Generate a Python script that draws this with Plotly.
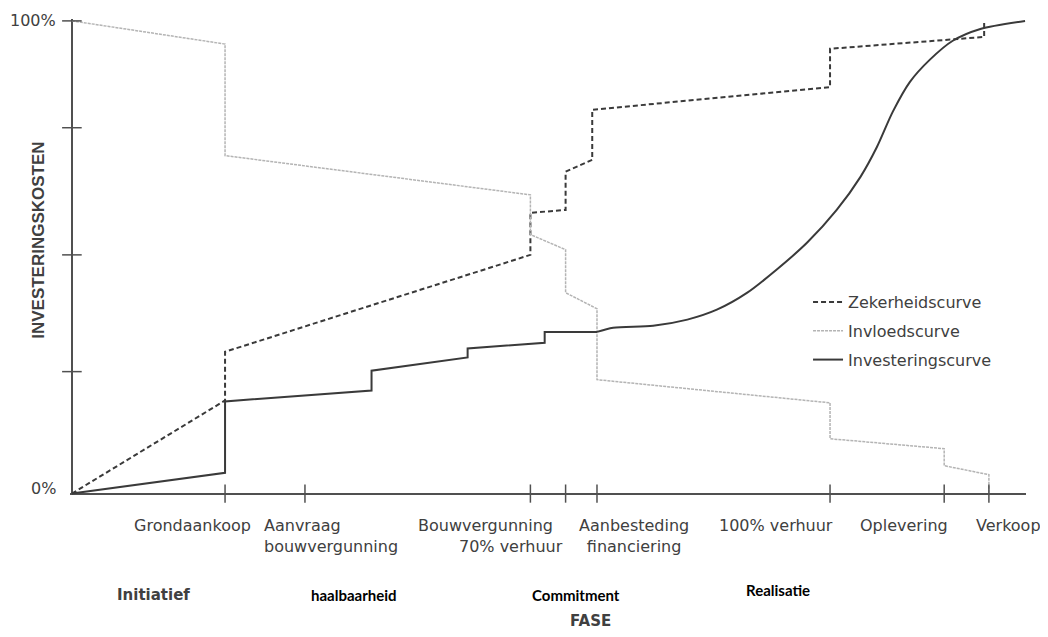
import plotly.graph_objects as go

# ---------------- data ----------------
# x: progress through the project (0-100), y: percentage (0-100)
milestone_x = [16.1, 24.5, 48.2, 51.9, 55.2, 79.7, 91.7, 96.4]
milestone_labels = ["Grondaankoop", "Aanvraag<br>bouwvergunning", "Bouwvergunning",
                    "70% verhuur", "Aanbesteding<br>financiering", "100% verhuur",
                    "Oplevering", "Verkoop"]
y_tick_vals = [25.8, 50.5, 77.4, 100]
y_label_vals = [0, 100]
y_label_texts = ["0%", "100%"]

zeker_x = [0, 16.1, 16.1, 48.2, 48.2, 51.9, 51.9, 54.7, 54.7, 79.7, 79.7, 95.9, 95.9]
zeker_y = [0, 19.7, 30.0, 50.5, 59.4, 60.0, 68.1, 70.6, 81.2, 86.0, 94.1, 96.6, 99.8]

invloed_x = [0, 16.1, 16.1, 48.2, 48.2, 51.9, 51.9, 55.2, 55.2, 79.7, 79.7, 91.7, 91.7, 96.4, 96.4]
invloed_y = [100, 95.1, 71.5, 63.2, 54.8, 51.6, 42.5, 39.1, 24.1, 19.2, 11.6, 9.5, 5.9, 4.0, 0]

invest_step_x = [0, 16.1, 16.1, 31.5, 31.5, 41.6, 41.6, 49.7, 49.7, 55.2]
invest_step_y = [0, 4.4, 19.5, 21.8, 26.0, 28.8, 30.7, 31.9, 34.2, 34.2]
invest_curve_x = [55.2, 56.9, 61.1, 64.7, 67.8, 71.0, 74.1, 77.3, 80.4, 82.9,
                  84.6, 86.3, 88.1, 90.2, 92.6, 95.5, 100.2]
invest_curve_y = [34.2, 35.1, 35.5, 36.8, 38.9, 42.5, 47.4, 53.1, 60.0, 67.0,
                  73.2, 80.8, 87.1, 91.8, 95.8, 98.3, 100.0]

phase_labels = ["Initiatief", "haalbaarheid", "Commitment", "Realisatie"]
axis_title_y = "INVESTERINGSKOSTEN"
axis_title_x = "FASE"

# ---------------- styling ----------------
DARK = "#3a3a3a"
LIGHT = "#b4b4b4"
AXIS = "#505050"
TXT = "#404040"
FONT = "DejaVu Sans"

fig = go.Figure()

fig.add_trace(go.Scatter(x=zeker_x, y=zeker_y, mode="lines", name="Zekerheidscurve",
                         legendgroup="a",
                         line=dict(color=DARK, width=2, dash="5px,3px")))
fig.add_trace(go.Scatter(x=invloed_x, y=invloed_y, mode="lines", name="Invloedscurve",
                         legendgroup="b",
                         line=dict(color=LIGHT, width=1.5, dash="3px,1px")))
fig.add_trace(go.Scatter(x=invest_step_x, y=invest_step_y, mode="lines", name="Investeringscurve",
                         legendgroup="c",
                         line=dict(color=DARK, width=2)))
fig.add_trace(go.Scatter(x=invest_curve_x, y=invest_curve_y, mode="lines", name="Investeringscurve",
                         legendgroup="c", showlegend=False,
                         line=dict(color=DARK, width=2, shape="spline", smoothing=0.8)))

# crossing tick marks
fig.add_trace(go.Scatter(x=milestone_x, y=[0] * len(milestone_x), mode="markers",
                         showlegend=False, cliponaxis=False, hoverinfo="skip",
                         marker=dict(symbol="line-ns", size=13,
                                     line=dict(color=AXIS, width=1.5))))
fig.add_trace(go.Scatter(x=[0] * len(y_tick_vals), y=y_tick_vals, mode="markers",
                         showlegend=False, cliponaxis=False, hoverinfo="skip",
                         marker=dict(symbol="line-ew", size=14,
                                     line=dict(color=AXIS, width=1.5))))

annotations = []
# y labels
for v, t in zip(y_label_vals, y_label_texts):
    annotations.append(dict(x=0, y=v, xref="x", yref="y", text=t, showarrow=False,
                            xanchor="right", yanchor="middle", xshift=-14,
                            yshift=5 if v == 0 else 0,
                            font=dict(family=FONT, size=16, color=TXT)))

# milestone labels: (xanchor, xshift, line index, align)
label_layout = [("right", 28, 0, "center"), ("left", -43, 0, "left"),
                ("right", 25, 0, "right"), ("right", -1, 1, "right"),
                ("center", 37, 0, "center"), ("right", 5, 0, "center"),
                ("right", 6, 0, "center"), ("center", 20, 0, "center")]
for xv, txt, (xa, xs, ln, al) in zip(milestone_x, milestone_labels, label_layout):
    annotations.append(dict(x=xv, y=0, xref="x", yref="y", text=txt, showarrow=False,
                            xanchor=xa, yanchor="top", xshift=xs, yshift=-20 - 21 * ln,
                            align=al, font=dict(family=FONT, size=16, color=TXT)))

# phase labels
phase_layout = [(4.5, -101, dict(family="DejaVu Sans", size=15, color=TXT, weight="bold")),
                (24.9, -101, dict(family="Lato", size=15, color="#000000", weight="bold")),
                (48.2, -101, dict(family="Lato", size=15, color="#000000", weight="bold")),
                (70.7, -96, dict(family="Lato", size=15, color="#000000", weight="bold"))]
for txt, (xv, ys, fnt) in zip(phase_labels, phase_layout):
    annotations.append(dict(x=xv, y=0, xref="x", yref="y", text=txt, showarrow=False,
                            xanchor="left", yanchor="middle", yshift=ys, font=fnt))

annotations.append(dict(x=54.5, y=0, xref="x", yref="y", text=axis_title_x, showarrow=False,
                        xanchor="center", yanchor="middle", yshift=-127,
                        font=dict(family="DejaVu Sans", size=15, color=TXT, weight="bold")))
annotations.append(dict(x=-0.0325, y=0.536, xref="paper", yref="paper", text=axis_title_y,
                        showarrow=False, textangle=-90, xanchor="center", yanchor="middle",
                        font=dict(family="Liberation Sans", size=17, color=TXT, weight="bold")))

# the page body adds an 8px margin, so the figure is 8px smaller than the window
fig.update_layout(
    width=1040, height=621,
    margin=dict(l=62, r=22, t=11, b=134),
    paper_bgcolor="white", plot_bgcolor="white",
    showlegend=True,
    legend=dict(x=0.772, y=0.441, xanchor="left", yanchor="top",
                traceorder="grouped", tracegroupgap=5,
                bgcolor="rgba(0,0,0,0)", borderwidth=0,
                font=dict(family=FONT, size=16, color=TXT)),
    xaxis=dict(range=[-0.2, 100.3], showgrid=False, showticklabels=False, ticks="",
               zeroline=True, zerolinecolor=AXIS, zerolinewidth=2, showline=False),
    yaxis=dict(range=[-0.3, 100.4], showgrid=False, showticklabels=False, ticks="",
               zeroline=True, zerolinecolor=AXIS, zerolinewidth=2, showline=False),
    annotations=annotations,
)

fig.write_html("out.html")
